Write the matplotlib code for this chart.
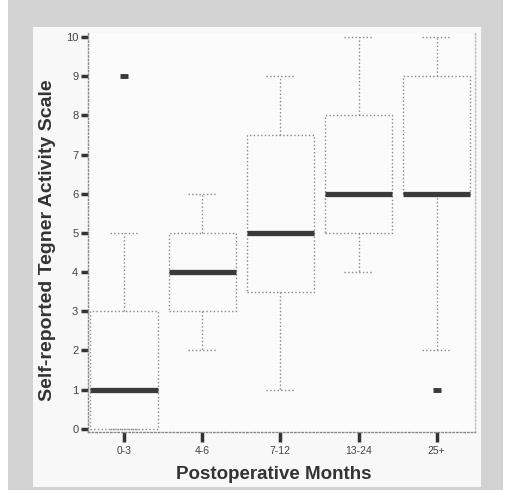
import matplotlib
matplotlib.use('Agg')
import matplotlib.pyplot as plt
from matplotlib.patches import Rectangle

plt.rcParams['font.family'] = ['Liberation Sans', 'DejaVu Sans']

# box statistics
groups = ['0-3', '4-6', '7-12', '13-24', '25+']
q1 = [0, 3, 3.5, 5, 6]
medians = [1, 4, 5, 6, 6]
q3 = [3, 5, 7.5, 8, 9]
whisker_low = [0, 2, 1, 4, 2]
whisker_high = [5, 6, 9, 10, 10]
outliers = [[9], [], [], [], [1]]

stats = []
for i, g in enumerate(groups):
    stats.append({'label': g, 'q1': q1[i], 'med': medians[i], 'q3': q3[i],
                  'whislo': whisker_low[i], 'whishi': whisker_high[i],
                  'fliers': outliers[i]})

fig = plt.figure(figsize=(5.08, 4.9), dpi=100, facecolor='white')

# scanned page look: grey border with a light page inside
fig.patches.append(Rectangle((8 / 508, 0), 495 / 508, 1, transform=fig.transFigure,
                             facecolor='#d2d2d2', edgecolor='none', zorder=-2))
fig.patches.append(Rectangle((33 / 508, 3 / 490), 448 / 508, 460 / 490, transform=fig.transFigure,
                             facecolor='#f8f8f8', edgecolor='none', zorder=-1))

ax = fig.add_axes([88 / 508, 58 / 490, 387 / 508, 399 / 490])
ax.set_facecolor('#fbfbfb')

dot = dict(color='#888888', linestyle=':', linewidth=1.0)
ax.bxp(stats, positions=range(1, 6), widths=0.86, capwidths=0.37, showfliers=True,
       boxprops=dot, whiskerprops=dot, capprops=dot,
       medianprops=dict(color='#3a3a3a', linewidth=3.8, solid_capstyle='butt'),
       flierprops=dict(marker='_', markersize=6, markeredgewidth=3.5, markeredgecolor='#3a3a3a'))

ax.set_xlim(0.54, 5.49)
ax.set_ylim(-0.08, 10.1)
ax.set_yticks(range(0, 11))
ax.set_xticks(range(1, 6))
ax.set_xticklabels(groups)

ax.spines['top'].set_visible(False)
for s in ['left', 'bottom', 'right']:
    ax.spines[s].set_color('#888888')
    ax.spines[s].set_linestyle(':')
    ax.spines[s].set_linewidth(1.0)
ax.spines['right'].set_color('#bbbbbb')

ax.tick_params(axis='y', length=5, width=2.5, color='#333333', labelsize=8,
               labelcolor='#444444', pad=2)
ax.tick_params(axis='x', length=7, width=2.5, color='#333333', labelsize=7.5,
               labelcolor='#444444', pad=3)

ax.set_ylabel('Self-reported Tegner Activity Scale', fontsize=14, fontweight='bold',
              color='#333333')
ax.set_xlabel('Postoperative Months', fontsize=13.5, fontweight='bold',
              color='#333333')
ax.yaxis.set_label_coords(-0.083, 0.481)
ax.xaxis.set_label_coords(0.479, -0.085)

fig.savefig('out.png', dpi=100)
